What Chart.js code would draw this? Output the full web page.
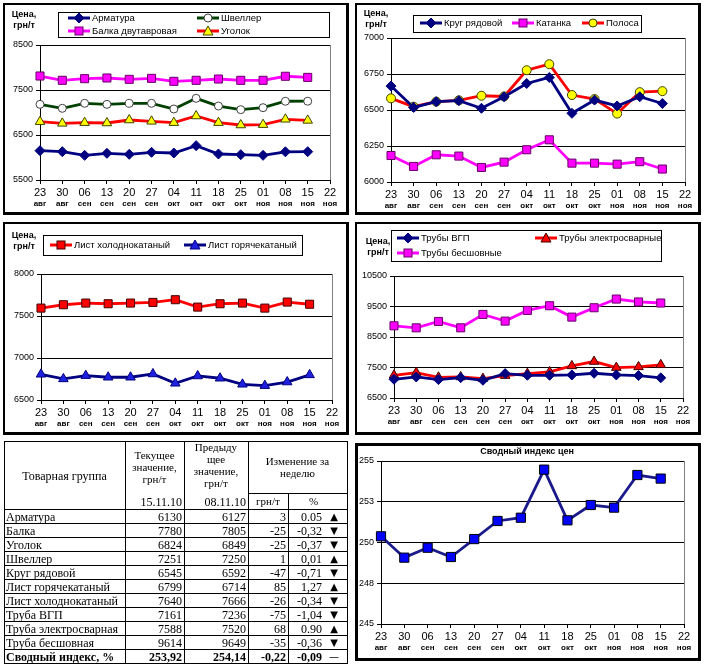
<!DOCTYPE html>
<html><head><meta charset="utf-8">
<script src="https://cdn.jsdelivr.net/npm/chart.js@4.4.0/dist/chart.umd.min.js"></script>
<style>
body{margin:0;width:707px;height:667px;background:#fff;position:relative;overflow:hidden;font-family:"Liberation Sans",Arial,sans-serif;color:#000}
.frame{position:absolute;box-sizing:border-box;border:2px solid #000;border-right-width:3px;border-bottom-width:3px;background:#fff}
canvas{position:absolute}
.ytitle{position:absolute;font-size:9px;font-weight:bold;line-height:11px;text-align:center;width:30px}
.legend{position:absolute;box-sizing:border-box;border:1px solid #000;background:#fff;font-size:9.5px}
.li{position:absolute;white-space:nowrap;display:flex;align-items:center;height:12px;line-height:12px}
.li svg{margin-right:2px}
.t{position:absolute;font-family:"Liberation Serif","Times New Roman",serif;font-size:12px;line-height:14px;white-space:nowrap}
.h{font-size:11px;line-height:12px;text-align:center}
.ln{position:absolute;background:#000}
.title5{position:absolute;font-size:9px;font-weight:bold;text-align:center}
</style></head><body>
<script>
// ---------- data ----------
const days = ['23','30','06','13','20','27','04','11','18','25','01','08','15','22'];
const months = ['авг','авг','сен','сен','сен','сен','окт','окт','окт','окт','ноя','ноя','ноя','ноя'];

const armatura = [6152,6130,6048,6093,6070,6115,6100,6263,6078,6063,6048,6127,6130];
const shveller = [7181,7093,7204,7181,7204,7204,7078,7315,7144,7063,7107,7250,7251];
const balka    = [7811,7715,7752,7767,7737,7759,7693,7715,7744,7715,7715,7805,7780];
const ugolok   = [6796,6759,6774,6767,6833,6804,6774,6922,6774,6722,6730,6849,6824];

const krug     = [6666,6518,6558,6565,6512,6592,6684,6726,6477,6569,6528,6592,6545];
const katanka  = [6184,6108,6189,6180,6101,6138,6224,6293,6131,6131,6124,6141,6090];
const polosa   = [6581,6523,6558,6567,6599,6594,6776,6818,6604,6576,6475,6624,6631];

const listHol  = [7594,7634,7654,7646,7654,7662,7694,7606,7646,7654,7594,7666,7640];
const listGor  = [6806,6751,6790,6771,6771,6810,6699,6786,6759,6687,6671,6714,6799];

const trubyVgp = [7114,7190,7103,7168,7081,7300,7245,7245,7256,7311,7256,7236,7161];
const trubyEl  = [7245,7333,7179,7190,7136,7234,7300,7355,7552,7695,7497,7520,7588];
const trubyBes = [8867,8801,9010,8801,9240,9021,9371,9525,9152,9459,9744,9649,9614];

const priceIndex = [250.38,249.07,249.68,249.11,250.21,251.32,251.52,254.47,251.36,252.30,252.14,254.14,253.92];

const groups = ['Арматура','Балка','Уголок','Швеллер','Круг рядовой','Лист горячекатаный','Лист холоднокатаный','Труба ВГП','Труба электросварная','Труба бесшовная','Сводный индекс, %'];
const currentVals  = ['6130','7780','6824','7251','6545','6799','7640','7161','7588','9614','253,92'];
const previousVals = ['6127','7805','6849','7250','6592','6714','7666','7236','7520','9649','254,14'];
const changeAbs    = ['3','-25','-25','1','-47','85','-26','-75','68','-35','-0,22'];
const changePct    = ['0.05','-0,32','-0,37','0,01','-0,71','1,27','-0,34','-1,04','0.90','-0,36','-0,09'];
const trend        = ['▲','▼','▼','▲','▼','▲','▼','▼','▲','▼','—'];

// ---------- helpers ----------
const SANS = "'Liberation Sans Narrow','Liberation Sans',Arial,sans-serif";
const SANS2 = "'Liberation Sans',Arial,sans-serif";
const NAVY='#000080', MAG='#FF00FF', RED='#FF0000', GREEN='#004000', YEL='#FFFF00', BLUE='#0000FF';

function series(label, data, color, pointStyle, radius, fill, stroke){
  return {label, data:data.concat([null]), borderColor:color, backgroundColor:fill, borderWidth:2.8,
    pointStyle, pointRadius:radius, pointHoverRadius:radius, pointBackgroundColor:fill,
    pointBorderColor:stroke, pointBorderWidth:1, tension:0, clip:false, xAxisID:'x', yAxisID:'y'};
}
function el(tag, cls, css, html){
  const e=document.createElement(tag); if(cls) e.className=cls; Object.assign(e.style, css||{});
  if(html!==undefined) e.innerHTML=html; document.body.appendChild(e); return e;
}
function frame(l,t,r,b,thick){
  const f=el('div','frame',{left:l+'px',top:t+'px',width:(r-l)+'px',height:(b-t)+'px'});
  if(thick) f.style.borderWidth='3px';
}
const plotBorder={id:'plotBorder',beforeDatasetsDraw(chart){
  const a=chart.chartArea, ctx=chart.ctx; ctx.save(); ctx.strokeStyle='#808080'; ctx.lineWidth=1;
  const x=Math.round(a.right)+0.5; ctx.beginPath(); ctx.moveTo(x,a.top); ctx.lineTo(x,a.bottom); ctx.stroke(); ctx.restore();}};

function makeChart(rect, plot, y, datasets){
  const c=document.createElement('canvas');
  const w=rect.r-rect.l, h=rect.b-rect.t;
  c.width=w; c.height=h; c.style.left=rect.l+'px'; c.style.top=rect.t+'px'; c.style.width=w+'px'; c.style.height=h+'px';
  document.body.appendChild(c);
  const xh=18, x2h=(rect.b-plot.b)-xh;
  new Chart(c,{type:'line',data:{labels:days,datasets},
    options:{responsive:false,animation:false,devicePixelRatio:1,events:[],
      layout:{padding:{top:plot.t-rect.t,right:rect.r-plot.r,left:0,bottom:0}},
      plugins:{legend:{display:false},tooltip:{enabled:false}},
      scales:{
        x:{type:'category',offset:false,weight:0,
          grid:{display:true,drawOnChartArea:false,drawTicks:true,tickLength:4,tickColor:'#000'},
          border:{display:true,color:'#000',width:1},
          ticks:{autoSkip:false,maxRotation:0,minRotation:0,padding:2,color:'#000',font:{family:SANS,size:11}},
          afterFit(s){s.height=xh;}},
        x2:{type:'category',labels:months,offset:false,weight:1,position:'bottom',
          grid:{display:false,drawTicks:false},border:{display:false},
          ticks:{autoSkip:false,maxRotation:0,minRotation:0,padding:1,color:'#000',font:{family:SANS,size:8,weight:'bold'}},
          afterFit(s){s.height=x2h;}},
        y:{min:y.min,max:y.max,
          ticks:{stepSize:y.step,padding:3,color:'#000',font:{family:SANS2,size:9},callback:y.fmt||(v=>String(v))},
          grid:{color:'#000',lineWidth:1,drawTicks:true,tickLength:4,tickColor:'#000'},
          border:{display:true,color:'#000',width:1},
          afterFit(s){s.width=plot.l-rect.l;}}
      }},plugins:[plotBorder]});
}
function markerSVG(d){
  const s='<svg width="22" height="12" viewBox="0 0 22 12">';
  let m='';
  const f=d.pointBackgroundColor, st=d.pointBorderColor;
  if(d.pointStyle==='rectRot') m=`<polygon points="11,1 16,6 11,11 6,6" fill="${f}" stroke="${st}" stroke-width="1"/>`;
  else if(d.pointStyle==='rect') m=`<rect x="7" y="2" width="8" height="8" fill="${f}" stroke="${st}" stroke-width="1"/>`;
  else if(d.pointStyle==='circle') m=`<circle cx="11" cy="6" r="4" fill="${f}" stroke="${st}" stroke-width="1"/>`;
  else if(d.pointStyle==='triangle') m=`<polygon points="11,1 16,10 6,10" fill="${f}" stroke="${st}" stroke-width="1"/>`;
  return s+`<line x1="0" y1="6" x2="22" y2="6" stroke="${d.borderColor}" stroke-width="3"/>`+m+'</svg>';
}
function legend(box, items){
  const L=el('div','legend',{left:box.l+'px',top:box.t+'px',width:box.w+'px',height:box.h+'px'});
  items.forEach(it=>{
    const d=document.createElement('div'); d.className='li';
    d.style.left=(it.x-box.l-1)+'px'; d.style.top=(it.y-box.t-1-6)+'px';
    d.innerHTML=markerSVG(it.ds)+'<span>'+it.ds.label+'</span>';
    L.appendChild(d);
  });
}
function ytitle(x,y){ el('div','ytitle',{left:x+'px',top:y+'px'},'Цена,<br>грн/т'); }

// ---------- frames ----------
frame(3,3,349,215); frame(355,3,701,215); frame(3,222,349,435); frame(355,222,701,435); frame(355,443,701,661,true);

// ---------- chart 1 ----------
const d1=[series('Арматура',armatura,NAVY,'rectRot',5,NAVY,NAVY),
  series('Швеллер',shveller,GREEN,'circle',4,'#FFFFFF','#404040'),
  series('Балка двутавровая',balka,MAG,'rect',5.7,MAG,'#660066'),
  series('Уголок',ugolok,RED,'triangle',5.5,YEL,'#404000')];
makeChart({l:5,t:5,r:346,b:212},{l:40,t:45,r:330,b:180},{min:5500,max:8500,step:1000},d1);
ytitle(9,9);
legend({l:58,t:12,w:272,h:26},[{ds:d1[0],x:68,y:18},{ds:d1[1],x:197,y:18},{ds:d1[2],x:68,y:31},{ds:d1[3],x:197,y:31}]);

// ---------- chart 2 ----------
const d2=[series('Круг рядовой',krug,NAVY,'rectRot',5,NAVY,NAVY),
  series('Катанка',katanka,MAG,'rect',5.7,MAG,'#660066'),
  series('Полоса',polosa,RED,'circle',4.5,YEL,'#404000')];
makeChart({l:357,t:5,r:698,b:212},{l:391,t:38,r:685,b:182},{min:6000,max:7000,step:250},d2);
ytitle(361,8);
legend({l:413,t:15,w:229,h:18},[{ds:d2[0],x:420,y:23},{ds:d2[1],x:512,y:23},{ds:d2[2],x:582,y:23}]);

// ---------- chart 3 ----------
const d3=[series('Лист холоднокатаный',listHol,RED,'rect',5.7,RED,'#400000'),
  series('Лист горячекатаный',listGor,NAVY,'triangle',5.5,'#2020E0',NAVY)];
makeChart({l:5,t:224,r:346,b:432},{l:41,t:274,r:332,b:400},{min:6500,max:8000,step:500},d3);
ytitle(9,230);
legend({l:43,t:235,w:260,h:21},[{ds:d3[0],x:50,y:245},{ds:d3[1],x:184,y:245}]);

// ---------- chart 4 ----------
const d4=[series('Трубы ВГП',trubyVgp,NAVY,'rectRot',5,NAVY,NAVY),
  series('Трубы электросварные',trubyEl,RED,'triangle',5.5,RED,'#400000'),
  series('Трубы бесшовные',trubyBes,MAG,'rect',5.7,MAG,'#660066')];
makeChart({l:357,t:224,r:698,b:432},{l:394,t:276,r:683,b:398},{min:6500,max:10500,step:1000},d4);
ytitle(363,236);
legend({l:391,t:230,w:271,h:32},[{ds:d4[0],x:397,y:238},{ds:d4[1],x:535,y:238},{ds:d4[2],x:397,y:253}]);

// ---------- chart 5 ----------
const d5=[series('Сводный индекс цен',priceIndex,'#1A1A8C','rect',6.5,BLUE,'#000000')];
makeChart({l:358,t:446,r:697,b:657},{l:381,t:461,r:684,b:624},{min:245,max:255,step:2.5,fmt:v=>String(Math.round(v))},d5);
el('div','title5',{left:427+'px',top:446+'px',width:'200px'},'Сводный индекс цен');

// ---------- table ----------
const X=[4,125,184,248,288,347];
const T0=441, TS=493, TH=509, RH=14, NR=groups.length, TB=TH+RH*NR;
function hl(y,x1,x2){ el('div','ln',{left:x1+'px',top:y+'px',width:(x2-x1+1)+'px',height:'1px'}); }
function vl(x,y1,y2){ el('div','ln',{left:x+'px',top:y1+'px',width:'1px',height:(y2-y1+1)+'px'}); }
hl(T0,X[0],X[5]); hl(TS,X[3],X[5]); hl(TH,X[0],X[5]);
for(let i=1;i<=NR;i++) hl(TH+RH*i,X[0],X[5]);
vl(X[0],T0,TB); vl(X[1],T0,TB); vl(X[2],T0,TB); vl(X[3],T0,TB); vl(X[4],TS,TB); vl(X[5],T0,TB);
function txt(html,l,t,w,align,cls,extra){
  return el('div','t'+(cls?' '+cls:''),Object.assign({left:l+'px',top:t+'px',width:w+'px',textAlign:align},extra||{}),html);
}
txt('Товарная группа',X[0],469,X[1]-X[0],'center');
txt('Текущее<br>значение,<br>грн/т',X[1],449,X[2]-X[1],'center','h');
txt('15.11.10',X[1],495,X[2]-X[1]-2,'right','h',{lineHeight:'14px',fontSize:'12px'});
txt('Предыду<br>щее<br>значение,<br>грн/т',X[2],441,X[3]-X[2],'center','h');
txt('08.11.10',X[2],495,X[3]-X[2]-2,'right','h',{lineHeight:'14px',fontSize:'12px'});
txt('Изменение за<br>неделю',X[3],455,X[5]-X[3],'center','h');
txt('грн/т',X[3],495,X[4]-X[3],'center','h',{lineHeight:'13px'});
txt('%',X[4],495,X[5]-X[4]-8,'center','h',{lineHeight:'13px'});
groups.forEach((g,i)=>{
  const top=TH+RH*i+1;
  const bold=(i===NR-1)?{fontWeight:'bold'}:{};
  txt(g,X[0]+2,top,X[1]-X[0]-3,'left',null,bold);
  txt(currentVals[i],X[1],top,X[2]-X[1]-2,'right',null,bold);
  txt(previousVals[i],X[2],top,X[3]-X[2]-2,'right',null,bold);
  txt(changeAbs[i],X[3],top,X[4]-X[3]-2,'right',null,bold);
  txt(changePct[i],X[4],top,322-X[4],'right',null,bold);
  txt(trend[i],328,top,12,'center',null,{fontFamily:"'DejaVu Sans',sans-serif",fontSize:'10px'});
});
</script>
</body></html>
